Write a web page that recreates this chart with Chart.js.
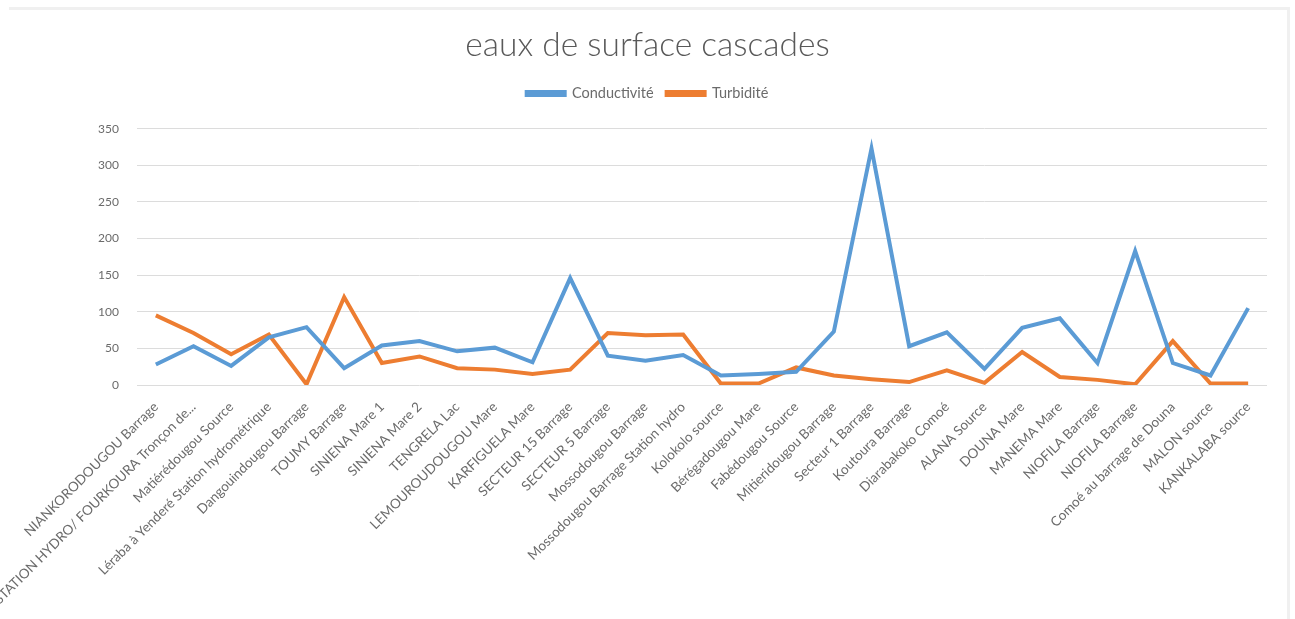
<!DOCTYPE html>
<html>
<head>
<meta charset="utf-8">
<title>eaux de surface cascades</title>
<script src="https://cdn.jsdelivr.net/npm/chart.js@4/dist/chart.umd.min.js"></script>
<style>
    html, body { margin: 0; padding: 0; background: #fff; }
    #wrap { width: 1295px; height: 619px; position: relative; }
    /* faint frame of the chart object */
    #frame {
        position: absolute; left: 9px; top: 7px; right: 5px; bottom: -4px;
        border-top: 3px solid #f0f0f0; border-right: 3px solid #f0f0f0;
        pointer-events: none;
    }
</style>
</head>
<body>
<div id="wrap"><canvas id="chart"></canvas><div id="frame"></div></div>
<script>
// sites de prélèvement (eaux de surface, région des Cascades)
const sites = [
    'NIANKORODOUGOU Barrage',
    'STATION HYDRO/ FOURKOURA Tronçon de...',
    'Matiérédougou Source',
    'Léraba à Yenderé Station hydrométrique',
    'Dangouindougou Barrage',
    'TOUMY Barrage',
    'SINIENA Mare 1',
    'SINIENA Mare 2',
    'TENGRELA Lac',
    'LEMOUROUDOUGOU Mare',
    'KARFIGUELA Mare',
    'SECTEUR 15 Barrage',
    'SECTEUR 5 Barrage',
    'Mossodougou Barrage',
    'Mossodougou Barrage Station hydro',
    'Kolokolo source',
    'Bérégadougou Mare',
    'Fabédougou Source',
    'Mitieridougou Barrage',
    'Secteur 1 Barrage',
    'Koutoura Barrage',
    'Diarabakoko Comoé',
    'ALANA Source',
    'DOUNA Mare',
    'MANEMA Mare',
    'NIOFILA Barrage',
    'NIOFILA Barrage',
    'Comoé au barrage de Douna',
    'MALON source',
    'KANKALABA source'
];

const conductivite = [28, 53, 26, 65, 79, 23, 54, 60, 46, 51, 31, 146, 40, 33, 41, 13, 15, 18, 73, 323,
                      53, 72, 22, 78, 91, 30, 183, 30, 13, 105];

const turbidite = [95, 71, 42, 69, 1, 120, 30, 39, 23, 21, 15, 21, 71, 68, 69, 2, 2, 24, 13, 8,
                   4, 20, 3, 45, 11, 7, 1, 60, 2, 2];

const yTicks = [0, 50, 100, 150, 200, 250, 300, 350];

const grey = '#6b6b6b';

// empty box placed between the legend and the plot, to leave some air
const spacer = {
    id: 'spacer',
    beforeInit(chart) {
        Chart.layouts.addBox(chart, {
            position: 'top',
            weight: 500,
            fullSize: true,
            options: {},
            left: 0, top: 0, right: 0, bottom: 0, width: 0, height: 0,
            isHorizontal() { return true; },
            update(maxWidth) { this.width = maxWidth; this.height = 18; },
            draw() {}
        });
    }
};

new Chart(document.getElementById('chart'), {
    type: 'line',
    data: {
        labels: sites,
        datasets: [{
            label: 'Conductivité',
            data: conductivite,
            borderColor: '#5B9BD5',
            backgroundColor: '#5B9BD5',
            borderWidth: 4,
            pointRadius: 0,
            tension: 0
        }, {
            label: 'Turbidité',
            data: turbidite,
            borderColor: '#ED7D31',
            backgroundColor: '#ED7D31',
            borderWidth: 4,
            pointRadius: 0,
            tension: 0
        }]
    },
    plugins: [spacer],
    options: {
        responsive: true,
        maintainAspectRatio: false,
        animation: false,
        layout: { padding: { top: 18, right: 0, bottom: 0, left: 0 } },
        plugins: {
            title: {
                display: true,
                text: 'eaux de surface cascades',
                color: '#595959',
                font: { family: 'Lato', size: 33.5, weight: '300' },
                padding: { top: 7, bottom: 8 }
            },
            legend: {
                labels: {
                    color: grey,
                    font: { family: 'Lato', size: 14.5 },
                    boxWidth: 38,
                    boxHeight: 3,
                    padding: 13
                }
            },
            tooltip: { enabled: false }
        },
        scales: {
            x: {
                offset: true,
                grid: { display: false },
                border: { display: false },
                ticks: {
                    autoSkip: false,
                    minRotation: 45,
                    maxRotation: 45,
                    color: grey,
                    font: { family: 'Lato', size: 13.5 },
                    padding: 6
                },
                afterFit: (scale) => {
                    scale.height = 234;
                    scale.paddingLeft = 0;
                    // keep the plot clear of the right edge while title and legend stay centred
                    scale.paddingRight = 28;
                }
            },
            y: {
                min: 0,
                max: 350,
                afterBuildTicks: (scale) => {
                    scale.ticks = yTicks.map(v => ({ value: v }));
                },
                grid: { color: '#dcdcdc', drawTicks: false },
                border: { display: false },
                ticks: {
                    color: grey,
                    font: { family: 'Lato', size: 12 },
                    padding: 18
                },
                afterFit: (scale) => {
                    scale.width = 137;
                }
            }
        }
    }
});
</script>
</body>
</html>
